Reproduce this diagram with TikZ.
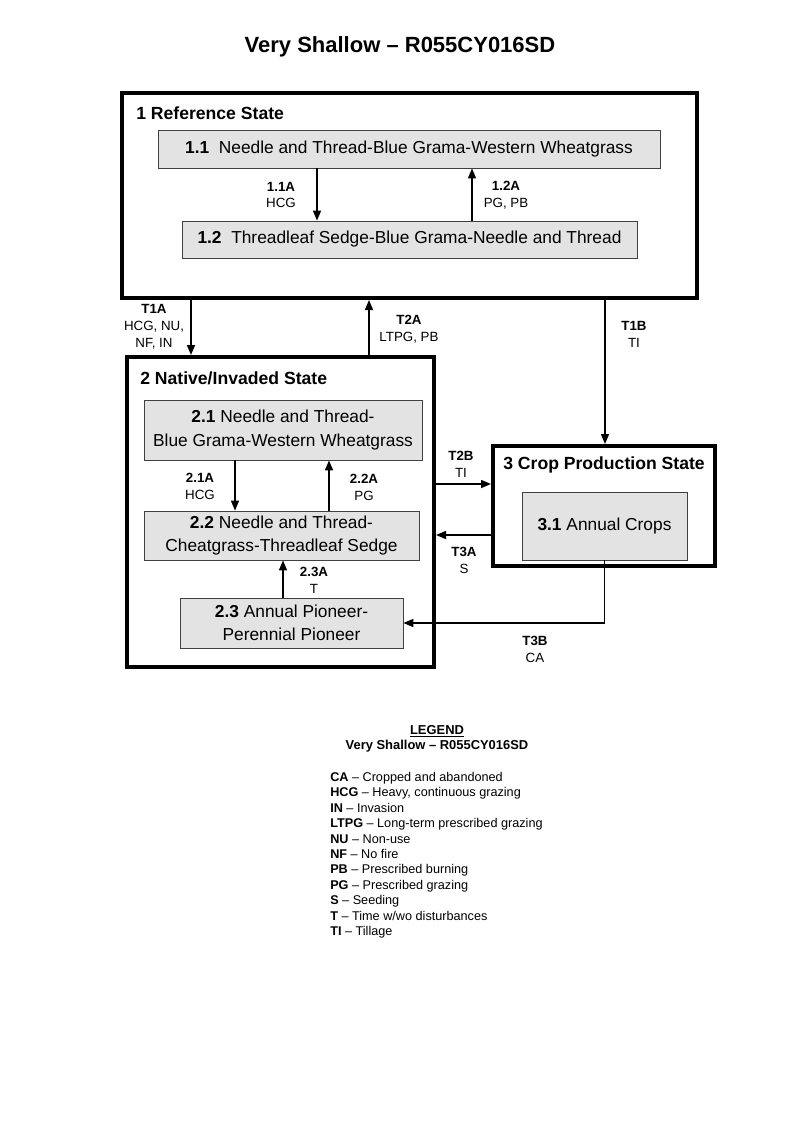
\documentclass[tikz,border=0pt]{standalone}
\usepackage{fontspec}
\setmainfont{Liberation Sans}
\usetikzlibrary{fit,arrows.meta}
\begin{document}
\begin{tikzpicture}[x=0.75pt,y=-0.75pt,
  state/.style={draw,line width=3pt,inner sep=0pt},
  comm/.style={draw=black!75,fill=black!11,line width=0.6pt,inner sep=0pt},
  commtxt/.style={align=center,inner sep=0pt,font=\fontsize{13}{17.5}\selectfont},
  arr/.style={line width=1.1pt,-{Triangle[length=7.5pt,width=6pt]}},
  lbl/.style={align=center,font=\fontsize{10}{12.7}\selectfont,inner sep=0pt},
  stlbl/.style={anchor=west,font=\bfseries\fontsize{13.2}{15}\selectfont,inner sep=0pt}]
\useasboundingbox[fill=white] (0,0) rectangle (800,1143);

\node[font=\bfseries\fontsize{16.5}{19}\selectfont] (title) at (400,47) {Very Shallow -- R055CY016SD};

% State 1
\node[state,fit={(122,93) (697,298)}] (s1) {};
\node[stlbl] (s1l) at (136,113) {1 Reference State};
\node[comm,fit={(158,130) (660,168)}] (b11) {};
\node[commtxt] (t11) at (b11.center) {\textbf{1.1}\ \ Needle and Thread-Blue Grama-Western Wheatgrass};
\node[comm,fit={(182,221) (637,258)}] (b12) {};
\node[commtxt] (t12) at (b12.center) {\textbf{1.2}\ \ Threadleaf Sedge-Blue Grama-Needle and Thread};
\draw[arr] (317,0 |- b11.south) -- (317,0 |- b12.north);
\draw[arr] (472,0 |- b12.north) -- (472,0 |- b11.south);
\node[lbl] (l11a) at (281,195) {\textbf{1.1A}\\HCG};
\node[lbl] (l12a) at (506,195) {\textbf{1.2A}\\PG, PB};

% State 2
\node[state,fit={(127,357) (434,667)}] (s2) {};
\node[stlbl] (s2l) at (140,378) {2 Native/Invaded State};
\node[comm,fit={(144,400) (422,460)}] (b21) {};
\node[commtxt] (t21) at (b21.center) {\textbf{2.1} Needle and Thread-\\Blue Grama-Western Wheatgrass};
\node[comm,fit={(144,511) (419,560)}] (b22) {};
\node[commtxt] (t22) at (b22.center) {\textbf{2.2} Needle and Thread-\\Cheatgrass-Threadleaf Sedge};
\node[comm,fit={(180,598) (403,648)}] (b23) {};
\node[commtxt] (t23) at (b23.center) {\textbf{2.3} Annual Pioneer-\\Perennial Pioneer};
\draw[arr] (235,0 |- b21.south) -- (235,0 |- b22.north);
\draw[arr] (329,0 |- b22.north) -- (329,0 |- b21.south);
\draw[arr] (283,0 |- b23.north) -- (283,0 |- b22.south);
\node[lbl] (l21a) at (200,486) {\textbf{2.1A}\\HCG};
\node[lbl] (l22a) at (364,487) {\textbf{2.2A}\\PG};
\node[lbl] (l23a) at (314,580) {\textbf{2.3A}\\T};

% State 3
\node[state,fit={(493,446) (715,566)}] (s3) {};
\node[stlbl,anchor=center] (s3l) at (604,465) {3 Crop Production State};
\node[comm,fit={(522,492) (687,560)}] (b31) {};
\node[commtxt] (t31) at (b31.center) {\textbf{3.1} Annual Crops};

% Transitions
\draw[arr] (191,0 |- s1.south) -- (191,0 |- s2.north);
\node[lbl] (lt1a) at (154,327) {\textbf{T1A}\\HCG, NU,\\NF, IN};
\draw[arr] (369,0 |- s2.north) -- (369,0 |- s1.south);
\node[lbl] (lt2a) at (409,329) {\textbf{T2A}\\LTPG, PB};
\draw[arr] (605,0 |- s1.south) -- (605,0 |- s3.north);
\node[lbl] (lt1b) at (634,334) {\textbf{T1B}\\TI};
\draw[arr] (s2.east |- 0,484) -- (s3.west |- 0,484);
\node[lbl] (lt2b) at (461,464) {\textbf{T2B}\\TI};
\draw[arr] (s3.west |- 0,535) -- (s2.east |- 0,535);
\node[lbl] (lt3a) at (464,560) {\textbf{T3A}\\S};
\draw[arr] (b31.south) |- (b23.east);
\node[lbl] (lt3b) at (535,649) {\textbf{T3B}\\CA};

% Legend
\node[font=\bfseries\fontsize{9.7}{11}\selectfont,inner sep=0pt] (lgh) at (437,731) {\underline{LEGEND}};
\node[font=\bfseries\fontsize{9.7}{11}\selectfont,inner sep=0pt] (lgs) at (437,746) {Very Shallow -- R055CY016SD};
\node[anchor=north west,align=left,inner sep=0pt,font=\fontsize{9.5}{11.55}\selectfont] (lgb) at (330,772) {%
\textbf{CA} -- Cropped and abandoned\\
\textbf{HCG} -- Heavy, continuous grazing\\
\textbf{IN} -- Invasion\\
\textbf{LTPG} -- Long-term prescribed grazing\\
\textbf{NU} -- Non-use\\
\textbf{NF} -- No fire\\
\textbf{PB} -- Prescribed burning\\
\textbf{PG} -- Prescribed grazing\\
\textbf{S} -- Seeding\\
\textbf{T} -- Time w/wo disturbances\\
\textbf{TI} -- Tillage};
\end{tikzpicture}
\end{document}
